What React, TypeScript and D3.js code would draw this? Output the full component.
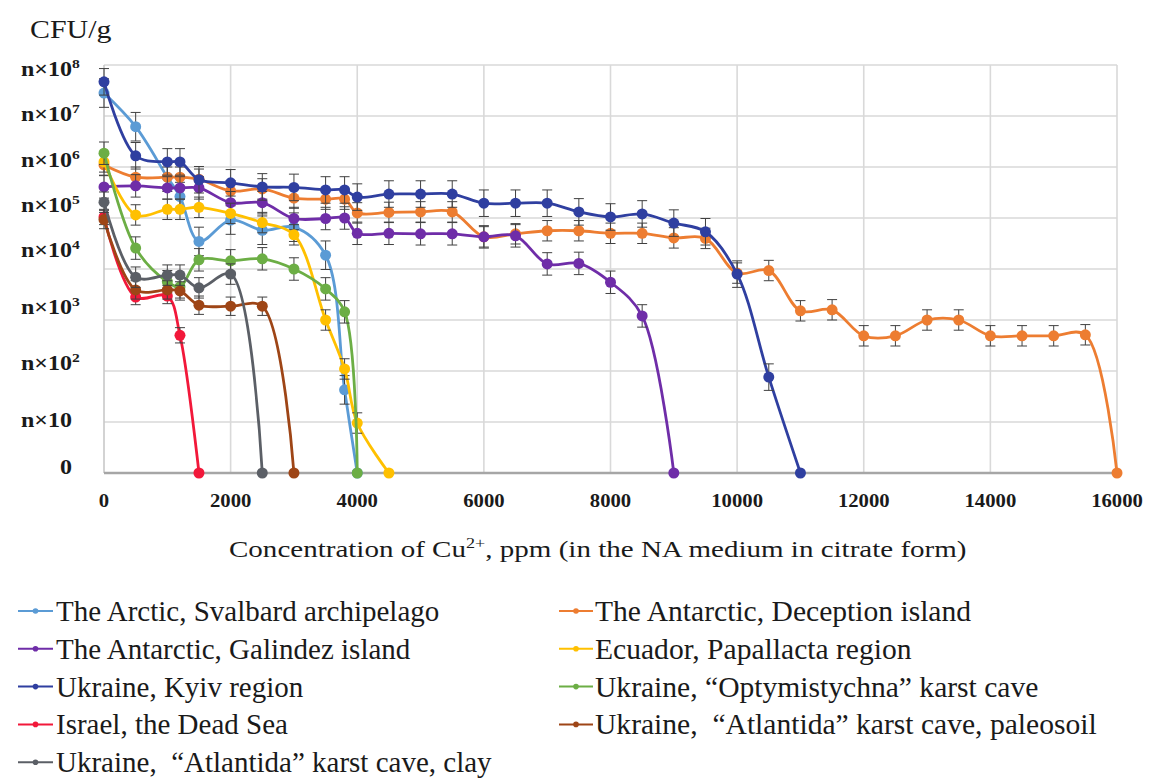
import React from 'react';
import * as d3 from 'd3';

// ---------- DATA ----------
const xTicks = [0, 2000, 4000, 6000, 8000, 10000, 12000, 14000, 16000];
const yLevels = [0, 1, 2, 3, 4, 5, 6, 7, 8];
const yTickBase = ['0', 'n×10', 'n×10', 'n×10', 'n×10', 'n×10', 'n×10', 'n×10', 'n×10'];
const yTickSup = ['', '', '2', '3', '4', '5', '6', '7', '8'];

const seriesNames = [
  'The Arctic, Svalbard archipelago',
  'The Antarctic, Deception island',
  'The Antarctic, Galindez island',
  'Ecuador, Papallacta region',
  'Ukraine, Kyiv region',
  'Ukraine, \u201COptymistychna\u201D karst cave',
  'Israel, the Dead Sea',
  'Ukraine,  \u201CAtlantida\u201D karst cave, paleosoil',
  'Ukraine,  \u201CAtlantida\u201D karst cave, clay',
];
const seriesColors = ['#5b9bd5', '#ed7d31', '#6f2da8', '#ffc000', '#2f3fa0', '#6cae45', '#f2183a', '#9e4516', '#5b5f66'];
const seriesErr = [0.28, 0.2, 0.22, 0.2, 0.26, 0.22, 0.15, 0.18, 0.2];

const arcticX = [0, 500, 1000, 1200, 1500, 2000, 2500, 3000, 3500, 3800, 4000];
const arcticY = [7.45, 6.79, 5.8, 5.42, 4.54, 4.96, 4.76, 4.82, 4.27, 1.63, 0];

const deceptionX = [0, 500, 1000, 1200, 1500, 2000, 2500, 3000, 3500, 3800, 4000, 4500, 5000, 5500, 6000, 6500, 7000, 7500, 8000, 8500, 9000, 9500, 10000, 10500, 11000, 11500, 12000, 12500, 13000, 13500, 14000, 14500, 15000, 15500, 16000];
const deceptionY = [6.04, 5.8, 5.8, 5.8, 5.76, 5.53, 5.57, 5.39, 5.37, 5.37, 5.1, 5.11, 5.12, 5.12, 4.63, 4.69, 4.75, 4.75, 4.7, 4.7, 4.61, 4.6, 3.92, 3.97, 3.18, 3.2, 2.69, 2.69, 3.0, 3.0, 2.69, 2.69, 2.69, 2.71, 0];

const galindezX = [0, 500, 1000, 1200, 1500, 2000, 2500, 3000, 3500, 3800, 4000, 4500, 5000, 5500, 6000, 6500, 7000, 7500, 8000, 8500, 9000];
const galindezY = [5.61, 5.63, 5.59, 5.59, 5.59, 5.3, 5.3, 4.99, 4.99, 5.0, 4.7, 4.7, 4.69, 4.69, 4.63, 4.65, 4.1, 4.11, 3.74, 3.08, 0];

const ecuadorX = [0, 500, 1000, 1200, 1500, 2000, 2500, 3000, 3500, 3800, 4000, 4500];
const ecuadorY = [6.1, 5.06, 5.17, 5.17, 5.21, 5.09, 4.91, 4.67, 3.0, 2.04, 0.98, 0];

const kyivX = [0, 500, 1000, 1200, 1500, 2000, 2500, 3000, 3500, 3800, 4000, 4500, 5000, 5500, 6000, 6500, 7000, 7500, 8000, 8500, 9000, 9500, 10000, 10500, 11000];
const kyivY = [7.67, 6.22, 6.1, 6.1, 5.75, 5.69, 5.61, 5.6, 5.55, 5.55, 5.41, 5.47, 5.47, 5.47, 5.29, 5.29, 5.29, 5.12, 5.02, 5.08, 4.9, 4.73, 3.9, 1.88, 0];

const optymX = [0, 500, 1000, 1200, 1500, 2000, 2500, 3000, 3500, 3800, 4000];
const optymY = [6.27, 4.41, 3.75, 3.65, 4.18, 4.16, 4.2, 4.0, 3.61, 3.16, 0];

const israelX = [0, 500, 1000, 1200, 1500];
const israelY = [5.02, 3.45, 3.47, 2.7, 0];

const paleosoilX = [0, 500, 1000, 1200, 1500, 2000, 2500, 3000];
const paleosoilY = [4.97, 3.59, 3.59, 3.57, 3.29, 3.27, 3.27, 0];

const clayX = [0, 500, 1000, 1200, 1500, 2000, 2500];
const clayY = [5.31, 3.84, 3.88, 3.88, 3.63, 3.9, 0];

const seriesX = [arcticX, deceptionX, galindezX, ecuadorX, kyivX, optymX, israelX, paleosoilX, clayX];
const seriesY = [arcticY, deceptionY, galindezY, ecuadorY, kyivY, optymY, israelY, paleosoilY, clayY];

// ---------- LAYOUT ----------
const W = 1150;
const H = 780;
const SERIF = '"Liberation Serif", "Times New Roman", serif';

const x = d3.scaleLinear().domain([0, 16000]).range([104, 1117]);
const y = d3.scaleLinear().domain([0, 8]).range([473, 65]);
// the tick labels in the source are not evenly aligned with the grid
const yLabel = d3.scaleLinear().domain([0, 1, 4, 8]).range([474, 427, 257, 76]);

const line = d3
  .line<[number, number]>()
  .x((d) => x(d[0]))
  .y((d) => y(d[1]))
  .curve(d3.curveCatmullRom.alpha(0.5));

function SText({ x: tx, y: ty, sx = 1, size, weight = 'normal', anchor = 'start', children }: any) {
  return (
    <text
      transform={`translate(${tx},${ty}) scale(${sx},1)`}
      fontFamily={SERIF}
      fontSize={size}
      fontWeight={weight}
      textAnchor={anchor}
      fill="#1a1a1a"
      style={{ whiteSpace: 'pre' }}
    >
      {children}
    </text>
  );
}

export default function App() {
  const legendLeftRows = [0, 2, 4, 6, 8];
  const legendRightRows = [1, 3, 5, 7];
  const rowY = (i: number) => 621 + i * 37.8;

  return (
    <svg
      width={W}
      height={H}
      viewBox={`0 0 ${W} ${H}`}
      style={{ position: 'absolute', left: 0, top: 0, background: '#fff' }}
    >
      <rect x={0} y={0} width={W} height={H} fill="#fff" />

      {/* grid */}
      {yLevels
        .filter((l) => l > 0)
        .map((l) => (
          <line key={'h' + l} x1={x(0)} x2={x(16000)} y1={y(l)} y2={y(l)} stroke="#d9d9d9" strokeWidth={1.6} />
        ))}
      {xTicks
        .filter((t) => t > 0)
        .map((t) => (
          <line key={'v' + t} x1={x(t)} x2={x(t)} y1={y(8)} y2={y(0)} stroke="#d9d9d9" strokeWidth={1.6} />
        ))}
      <line x1={x(0)} x2={x(0)} y1={y(8)} y2={y(0)} stroke="#c8c8c8" strokeWidth={1.6} />
      <line x1={x(0)} x2={x(16000)} y1={y(0)} y2={y(0)} stroke="#a6a6a6" strokeWidth={2.4} />

      {/* y tick labels */}
      {yLevels.map((l, i) =>
        yTickBase[i] === '0' ? (
          <SText key={'yl' + l} x={72} y={yLabel(l)} sx={1.2} size={20} weight="bold" anchor="end">
            0
          </SText>
        ) : (
          <SText key={'yl' + l} x={21} y={yLabel(l)} sx={1.2} size={20} weight="bold">
            {yTickBase[i]}
            {yTickSup[i] && (
              <tspan fontSize={13} dy={-8}>
                {yTickSup[i]}
              </tspan>
            )}
          </SText>
        )
      )}

      {/* x tick labels */}
      {xTicks.map((t) => (
        <SText key={'xl' + t} x={x(t)} y={507} sx={1.15} size={18} weight="bold" anchor="middle">
          {String(t)}
        </SText>
      ))}

      {/* axis titles */}
      <SText x={30} y={38} sx={1.15} size={26}>
        CFU/g
      </SText>
      <SText x={229} y={557} sx={1.21} size={24}>
        Concentration of Cu
        <tspan fontSize={15} dy={-9}>
          2+
        </tspan>
        <tspan dy={9}>, ppm (in the NA medium in citrate form)</tspan>
      </SText>

      {/* series */}
      {seriesNames.map((name, si) => {
        const pts: [number, number][] = seriesX[si].map((cx, k) => [cx, seriesY[si][k]]);
        const col = seriesColors[si];
        const e = seriesErr[si];
        return (
          <g key={name}>
            <path d={line(pts) || ''} fill="none" stroke={col} strokeWidth={2.8} />
            {pts
              .filter((p) => p[1] > 0.5)
              .map((p, k) => (
                <g key={'e' + k} stroke="#404040" strokeWidth={1}>
                  <line x1={x(p[0])} x2={x(p[0])} y1={y(p[1] + e)} y2={y(p[1] - e)} />
                  <line x1={x(p[0]) - 5} x2={x(p[0]) + 5} y1={y(p[1] + e)} y2={y(p[1] + e)} />
                  <line x1={x(p[0]) - 5} x2={x(p[0]) + 5} y1={y(p[1] - e)} y2={y(p[1] - e)} />
                </g>
              ))}
            {pts.map((p, k) => (
              <circle key={'m' + k} cx={x(p[0])} cy={y(p[1])} r={5.5} fill={col} />
            ))}
          </g>
        );
      })}

      {/* legend */}
      {legendLeftRows.map((si, r) => (
        <g key={'ll' + si}>
          <line x1={18} x2={53} y1={rowY(r) - 10} y2={rowY(r) - 10} stroke={seriesColors[si]} strokeWidth={2} />
          <circle cx={35.5} cy={rowY(r) - 10} r={2.8} fill={seriesColors[si]} />
          <SText x={56} y={rowY(r)} sx={1.0} size={29}>
            {seriesNames[si]}
          </SText>
        </g>
      ))}
      {legendRightRows.map((si, r) => (
        <g key={'lr' + si}>
          <line x1={559} x2={593} y1={rowY(r) - 10} y2={rowY(r) - 10} stroke={seriesColors[si]} strokeWidth={2} />
          <circle cx={576} cy={rowY(r) - 10} r={2.8} fill={seriesColors[si]} />
          <SText x={595} y={rowY(r)} sx={1.02} size={29}>
            {seriesNames[si]}
          </SText>
        </g>
      ))}
    </svg>
  );
}
